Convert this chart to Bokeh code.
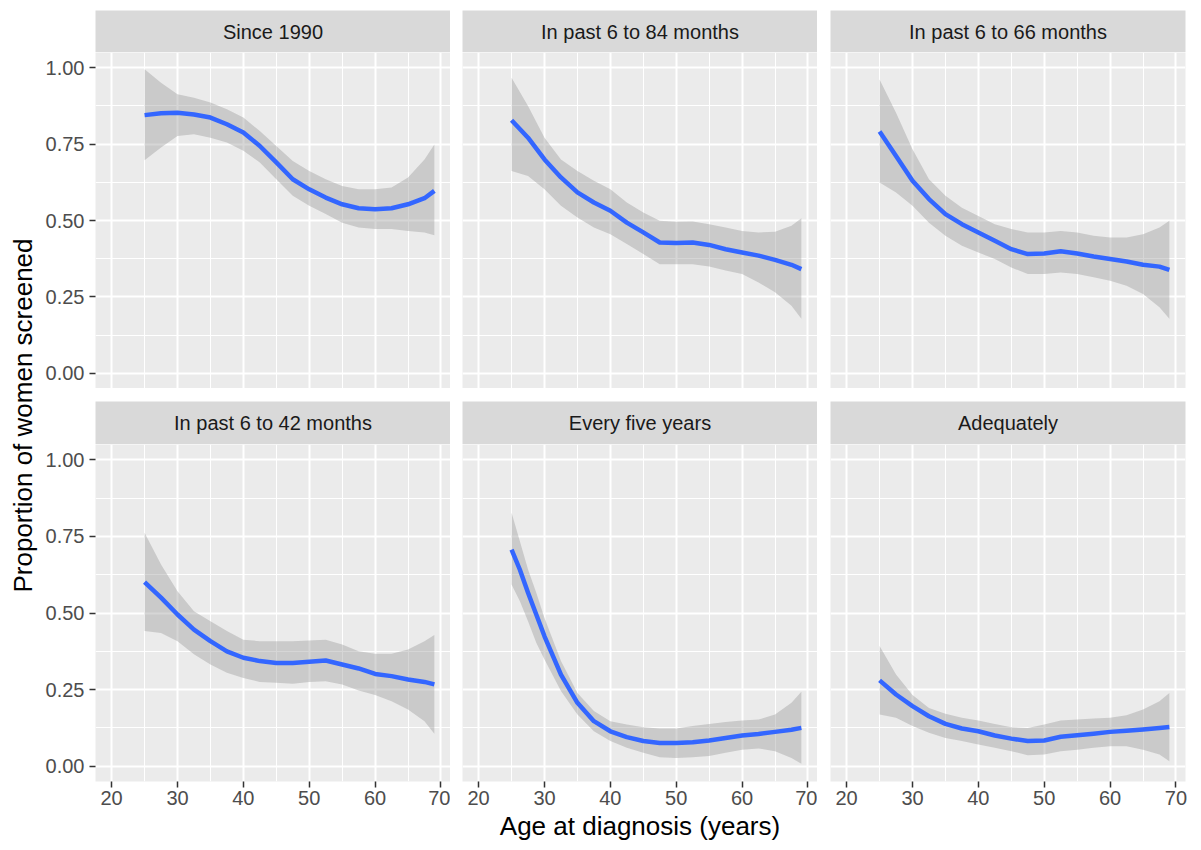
from math import pi
from bokeh.plotting import figure
from bokeh.layouts import row, column
from bokeh.models import (Range1d, LinearAxis, Grid, FixedTicker, PrintfTickFormatter,
                          ColumnDataSource)
from bokeh.core.properties import value
from bokeh.embed import file_html
from bokeh.resources import INLINE

# ---------------- data ----------------
PANELS = ["Since 1990", "In past 6 to 84 months", "In past 6 to 66 months",
          "In past 6 to 42 months", "Every five years", "Adequately"]

AGES = [25, 27.5, 30, 32.5, 35, 37.5, 40, 42.5, 45, 47.5, 50, 52.5, 55, 57.5,
        60, 62.5, 65, 67.5, 69]
AGES5 = [25, 26.25, 27.5, 28.75, 30, 32.5, 35, 37.5, 40, 42.5, 45, 47.5, 50,
         52.5, 55, 57.5, 60, 62.5, 65, 67.5, 69]

fit_since1990 = [0.845, 0.851, 0.853, 0.847, 0.837, 0.815, 0.788, 0.744, 0.690, 0.635,
                 0.602, 0.575, 0.553, 0.540, 0.537, 0.540, 0.553, 0.573, 0.597]
hi_since1990 = [0.995, 0.951, 0.913, 0.902, 0.886, 0.864, 0.837, 0.793, 0.744, 0.695,
                0.662, 0.635, 0.613, 0.602, 0.602, 0.608, 0.641, 0.700, 0.749]
lo_since1990 = [0.697, 0.739, 0.777, 0.782, 0.771, 0.755, 0.728, 0.690, 0.635, 0.581,
                0.548, 0.521, 0.493, 0.477, 0.472, 0.472, 0.466, 0.461, 0.452]

fit_84 = [0.828, 0.771, 0.700, 0.641, 0.592, 0.559, 0.532, 0.493, 0.461, 0.428,
          0.426, 0.428, 0.420, 0.406, 0.395, 0.385, 0.371, 0.355, 0.341]
hi_84 = [0.967, 0.875, 0.771, 0.700, 0.662, 0.630, 0.602, 0.559, 0.526, 0.499,
         0.496, 0.497, 0.488, 0.477, 0.466, 0.461, 0.463, 0.483, 0.507]
lo_84 = [0.662, 0.646, 0.602, 0.548, 0.510, 0.477, 0.455, 0.423, 0.390, 0.357,
         0.357, 0.357, 0.349, 0.336, 0.325, 0.297, 0.265, 0.221, 0.178]

fit_66 = [0.791, 0.711, 0.630, 0.570, 0.521, 0.488, 0.461, 0.434, 0.406, 0.390,
          0.392, 0.399, 0.392, 0.382, 0.374, 0.366, 0.355, 0.349, 0.338]
hi_66 = [0.962, 0.853, 0.733, 0.635, 0.581, 0.542, 0.515, 0.488, 0.472, 0.461,
         0.461, 0.466, 0.461, 0.450, 0.444, 0.444, 0.455, 0.477, 0.499]
lo_66 = [0.624, 0.592, 0.548, 0.493, 0.450, 0.417, 0.395, 0.374, 0.346, 0.325,
         0.325, 0.330, 0.325, 0.314, 0.303, 0.286, 0.259, 0.216, 0.178]

fit_42 = [0.601, 0.550, 0.495, 0.446, 0.408, 0.375, 0.354, 0.343, 0.337, 0.337,
          0.341, 0.345, 0.332, 0.319, 0.301, 0.294, 0.283, 0.275, 0.267]
hi_42 = [0.762, 0.658, 0.571, 0.506, 0.473, 0.441, 0.413, 0.408, 0.408, 0.408,
         0.410, 0.413, 0.397, 0.375, 0.367, 0.367, 0.381, 0.408, 0.428]
lo_42 = [0.441, 0.435, 0.408, 0.365, 0.332, 0.305, 0.288, 0.275, 0.272, 0.269,
         0.275, 0.277, 0.267, 0.247, 0.232, 0.212, 0.185, 0.147, 0.106]

fit_5y = [0.707, 0.642, 0.566, 0.495, 0.424, 0.299, 0.207, 0.147, 0.114, 0.095,
          0.082, 0.076, 0.076, 0.078, 0.084, 0.092, 0.100, 0.105, 0.112, 0.119, 0.125]
hi_5y = [0.827, 0.735, 0.642, 0.566, 0.484, 0.343, 0.239, 0.180, 0.147, 0.136,
         0.127, 0.123, 0.123, 0.131, 0.138, 0.144, 0.149, 0.152, 0.169, 0.207, 0.243]
lo_5y = [0.593, 0.539, 0.473, 0.403, 0.348, 0.245, 0.169, 0.114, 0.082, 0.060,
         0.044, 0.029, 0.027, 0.029, 0.033, 0.044, 0.054, 0.058, 0.049, 0.027, 0.008]

fit_adeq = [0.280, 0.234, 0.196, 0.163, 0.138, 0.123, 0.114, 0.100, 0.090, 0.082,
            0.084, 0.096, 0.101, 0.106, 0.112, 0.116, 0.120, 0.125, 0.128]
hi_adeq = [0.392, 0.299, 0.232, 0.190, 0.171, 0.158, 0.149, 0.138, 0.127, 0.125,
           0.136, 0.149, 0.152, 0.156, 0.158, 0.166, 0.185, 0.212, 0.239]
lo_adeq = [0.169, 0.158, 0.131, 0.109, 0.092, 0.082, 0.071, 0.060, 0.049, 0.036,
           0.038, 0.049, 0.054, 0.060, 0.065, 0.065, 0.054, 0.038, 0.016]

X_TICKS = [20, 30, 40, 50, 60, 70]
X_MINOR = [25, 35, 45, 55, 65]
Y_TICKS = [0.0, 0.25, 0.5, 0.75, 1.0]
Y_MINOR = [0.125, 0.375, 0.625, 0.875]

SERIES = [
    (AGES, fit_since1990, lo_since1990, hi_since1990),
    (AGES, fit_84, lo_84, hi_84),
    (AGES, fit_66, lo_66, hi_66),
    (AGES, fit_42, lo_42, hi_42),
    (AGES5, fit_5y, lo_5y, hi_5y),
    (AGES, fit_adeq, lo_adeq, hi_adeq),
]

# ---------------- styling ----------------
FONT = "Liberation Sans"
PANEL_BG = "#EBEBEB"
STRIP_BG = "#D9D9D9"
TICK_FS = "20px"
STRIP_FS = "20px"
TITLE_FS = "26px"

FRAME_W = 355
LEFT_BORDERS = [55, 12, 13]
RIGHT_BORDERS = [0, 0, 16]


def strip_fig(label, col, top_border, h):
    s = figure(frame_width=FRAME_W, frame_height=h, x_range=Range1d(0, 1), y_range=Range1d(0, 1),
               x_axis_location=None, y_axis_location=None, toolbar_location=None,
               output_backend="svg", min_border_left=LEFT_BORDERS[col],
               min_border_right=RIGHT_BORDERS[col], min_border_top=top_border,
               min_border_bottom=0, background_fill_color=STRIP_BG, outline_line_color=None)
    s.xgrid.visible = False
    s.ygrid.visible = False
    s.text(x=[0.5], y=[0.5], text=[label], text_align="center", text_baseline="middle",
           text_font=value(FONT), text_font_size=value(STRIP_FS), text_color="#1A1A1A")
    return s


def panel_fig(idx, col, bottom_row):
    h = 337 if bottom_row else 336
    p = figure(frame_width=FRAME_W, frame_height=h, x_range=Range1d(17.55, 71.45),
               y_range=Range1d(-0.05, 1.05), x_axis_location=None, y_axis_location=None,
               toolbar_location=None, output_backend="svg",
               min_border_left=LEFT_BORDERS[col], min_border_right=RIGHT_BORDERS[col],
               min_border_top=0, min_border_bottom=69 if bottom_row else 0,
               background_fill_color=PANEL_BG, outline_line_color=None)
    p.center = []
    xt = FixedTicker(ticks=X_TICKS, minor_ticks=X_MINOR)
    yt = FixedTicker(ticks=Y_TICKS, minor_ticks=Y_MINOR)
    for dim, t in ((0, xt), (1, yt)):
        g = Grid(dimension=dim, ticker=t, grid_line_color="white", grid_line_width=2,
                 minor_grid_line_color="white", minor_grid_line_width=1)
        p.add_layout(g, "center")

    ages, fit, lo, hi = SERIES[idx]
    src = ColumnDataSource(dict(x=ages, fit=fit, lo=lo, hi=hi))
    p.varea(x="x", y1="lo", y2="hi", source=src, fill_color="#999999", fill_alpha=0.4)
    p.line(x="x", y="fit", source=src, line_color="#3366FF", line_width=4.5,
           line_join="round")

    def style(ax):
        ax.axis_line_color = None
        ax.major_tick_line_color = "#333333"
        ax.major_tick_line_width = 1.5
        ax.major_tick_in = 0
        ax.major_tick_out = 6
        ax.minor_tick_line_color = None
        ax.major_label_text_font = FONT
        ax.major_label_text_font_size = TICK_FS
        ax.major_label_text_color = "#4D4D4D"

    if col == 0:
        ya = LinearAxis(ticker=FixedTicker(ticks=Y_TICKS),
                        formatter=PrintfTickFormatter(format="%.2f"))
        style(ya)
        ya.major_label_standoff = 5
        p.add_layout(ya, "left")
    if bottom_row:
        xa = LinearAxis(ticker=FixedTicker(ticks=X_TICKS))
        style(xa)
        xa.major_label_standoff = 3
        if col == 1:
            xa.axis_label = "Age at diagnosis (years)"
            xa.axis_label_text_font = FONT
            xa.axis_label_text_font_size = TITLE_FS
            xa.axis_label_text_font_style = "normal"
            xa.axis_label_text_color = "black"
            xa.axis_label_standoff = 3
        p.add_layout(xa, "below")
    return p


strips_top = [strip_fig(PANELS[i], i, 10, 42) for i in range(3)]
panels_top = [panel_fig(i, i, False) for i in range(3)]
strips_bot = [strip_fig(PANELS[3 + i], i, 13, 43) for i in range(3)]
panels_bot = [panel_fig(3 + i, i, True) for i in range(3)]

ylab = figure(width=40, height=850, x_range=Range1d(0, 40), y_range=Range1d(0, 850),
              x_axis_location=None, y_axis_location=None, toolbar_location=None,
              output_backend="svg", min_border=0, outline_line_color=None)
ylab.xgrid.visible = False
ylab.ygrid.visible = False
ylab.text(x=[22], y=[435], text=["Proportion of women screened"], angle=pi / 2,
          text_align="center", text_baseline="middle", text_font=value(FONT),
          text_font_size=value(TITLE_FS), text_color="black")

grid = column(row(*strips_top, spacing=0), row(*panels_top, spacing=0),
              row(*strips_bot, spacing=0), row(*panels_bot, spacing=0), spacing=0)
layout = row(ylab, grid, spacing=0)

open("out.html", "w").write(file_html(layout, INLINE))
